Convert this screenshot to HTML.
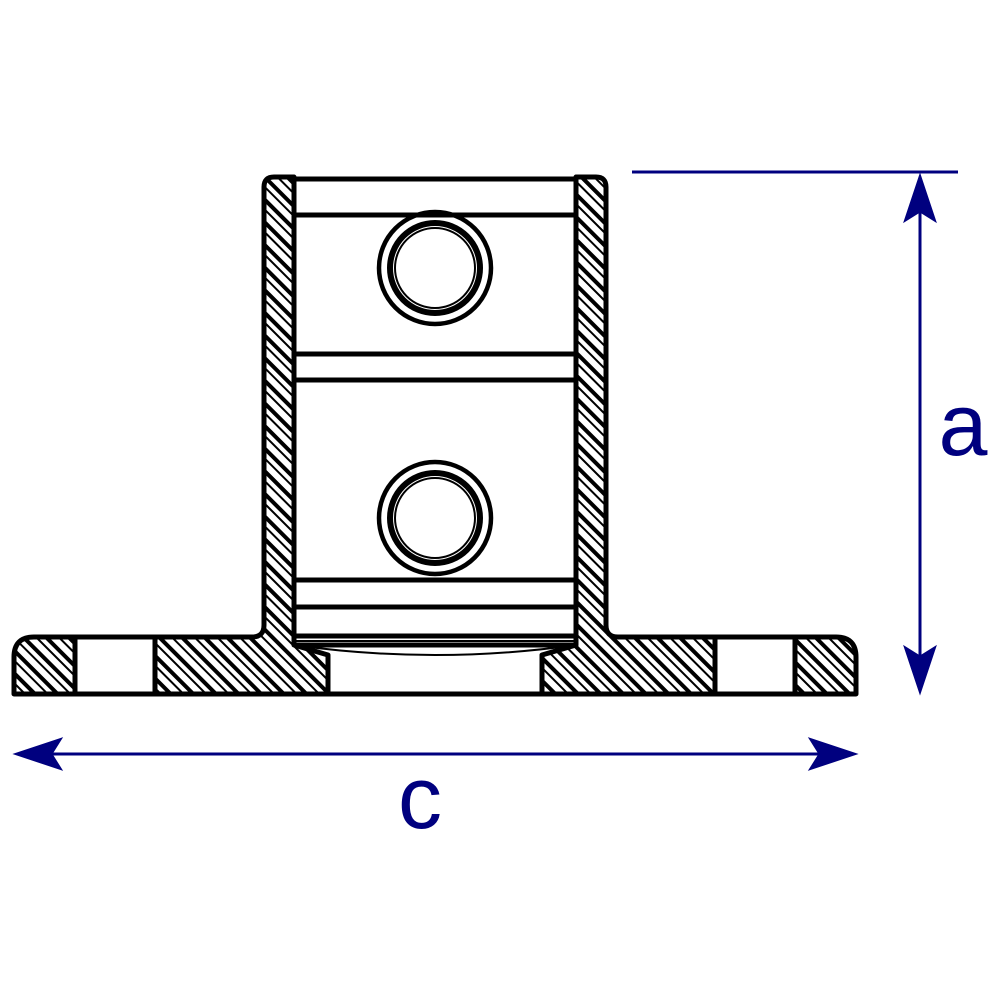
<!DOCTYPE html>
<html><head><style>html,body{margin:0;padding:0;background:#fff}svg{display:block}</style></head><body>
<svg width="1000" height="1000" viewBox="0 0 1000 1000" xmlns="http://www.w3.org/2000/svg">
<defs>
<pattern id="h" patternUnits="userSpaceOnUse" width="16" height="16" patternTransform="rotate(45)">
<rect width="16" height="16" fill="#fff"/>
<rect x="0" y="0" width="16" height="4" fill="#000"/>
<rect x="0" y="8" width="16" height="2" fill="#000"/>
</pattern>
</defs>
<path d="M14,694 L14,657 Q14,637 34,637 L252,637 Q264,637 264,625 L264,187 Q264,177 274,177 L294,177 L294,645 L328,655 L328,694 Z" fill="url(#h)" stroke="#000" stroke-width="5" stroke-linejoin="round"/>
<rect x="75" y="637" width="80" height="57" fill="#fff" stroke="#000" stroke-width="5"/>
<path d="M856,694 L856,657 Q856,637 836,637 L618,637 Q606,637 606,625 L606,187 Q606,177 596,177 L576,177 L576,645 L542,655 L542,694 Z" fill="url(#h)" stroke="#000" stroke-width="5" stroke-linejoin="round"/>
<rect x="715" y="637" width="80" height="57" fill="#fff" stroke="#000" stroke-width="5"/>
<g stroke="#000" fill="none">
<path d="M294,645 L576,645" stroke-width="5"/>
<path d="M294,641 L576,641" stroke-width="2"/>
<path d="M294,636 L576,636" stroke-width="5"/>
<path d="M294,607 L576,607" stroke-width="5"/>
<path d="M294,580 L576,580" stroke-width="5"/>
<path d="M294,380 L576,380" stroke-width="5"/>
<path d="M294,354 L576,354" stroke-width="5"/>
<path d="M294,215 L576,215" stroke-width="5"/>
<path d="M294,179 L576,179" stroke-width="5"/>
<path d="M294,645 Q435,665 576,645" stroke-width="2"/>
<line x1="328" y1="694" x2="542" y2="694" stroke-width="5"/>
<g id="c1"><circle cx="435" cy="268" r="56" stroke-width="4.5"/><circle cx="435" cy="268" r="45" stroke-width="6"/><circle cx="435" cy="268" r="40" stroke-width="2"/></g>
<use href="#c1" transform="translate(0,250)"/>
</g>
<g stroke="#00007f" fill="#00007f">
<line x1="632" y1="172" x2="958" y2="172" stroke-width="3"/>
<line x1="920" y1="200" x2="920" y2="670" stroke-width="3"/>
<path d="M920,174 L904,222 L920,212 L936,222 Z"/>
<path d="M920,694 L904,646 L920,656 L936,646 Z"/>
<line x1="40" y1="754" x2="830" y2="754" stroke-width="3"/>
<path d="M14,754 L62,738 L52,754 L62,770 Z"/>
<path d="M857,754 L809,738 L819,754 L809,770 Z"/>
</g>
<text x="963" y="455" font-family="Liberation Sans, sans-serif" font-size="88" fill="#00007f" text-anchor="middle">a</text>
<text x="420" y="828" font-family="Liberation Sans, sans-serif" font-size="88" fill="#00007f" text-anchor="middle">c</text>
</svg>
</body></html>
